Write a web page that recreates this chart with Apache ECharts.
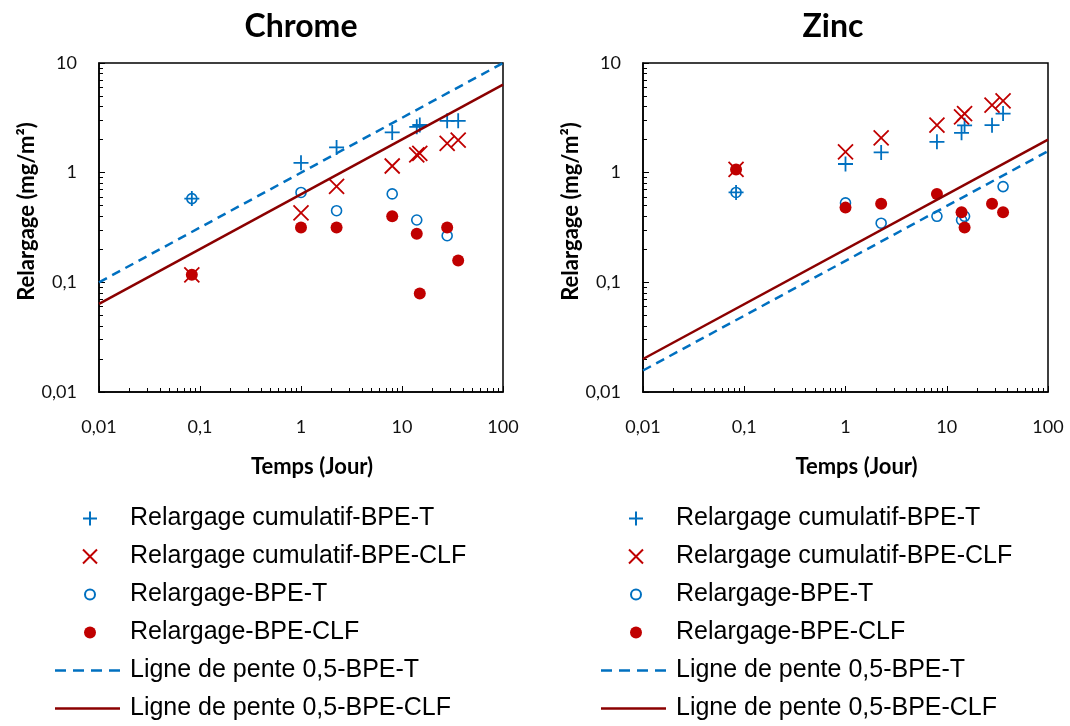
<!DOCTYPE html>
<html>
<head>
<meta charset="utf-8">
<script src="https://cdn.jsdelivr.net/npm/echarts@6/dist/echarts.min.js"></script>
<style>
  html, body { margin: 0; padding: 0; background: #fff; }
  #main { width: 1070px; height: 726px; }
</style>
</head>
<body>
<div id="main"></div>
<script>
// temps (jour)
var temps = [0.083, 1, 2.25, 8, 14, 15, 28, 36];

// Chrome
var crCumT   = [0.58, 1.23, 1.70, 2.33, 2.62, 2.72, 2.97, 2.97];
var crCumCLF = [0.117, 0.43, 0.75, 1.15, 1.45, 1.50, 1.85, 1.98];
var crRelT   = [0.58, 0.66, 0.45, 0.64, 0.37, null, 0.266, null];
var crRelCLF = [0.117, 0.316, 0.316, 0.40, 0.277, 0.079, 0.317, 0.158];
var crPenteT   = [[0.01, 0.1], [100, 10]];
var crPenteCLF = [[0.01, 0.0635], [100, 6.35]];

// Zinc
var znCumT   = [0.66, 1.20, 1.53, 1.91, 2.31, 2.70, 2.71, 3.46];
var znCumCLF = [1.07, 1.55, 2.08, 2.71, 3.23, 3.46, 4.12, 4.51];
var znRelT   = [0.66, 0.53, 0.346, 0.40, 0.37, 0.40, null, 0.746];
var znRelCLF = [1.07, 0.48, 0.52, 0.64, 0.436, 0.316, 0.52, 0.436];
var znPenteT   = [[0.01, 0.0157], [100, 1.57]];
var znPenteCLF = [[0.01, 0.02], [100, 2.0]];

var noms = ['Relargage cumulatif-BPE-T', 'Relargage cumulatif-BPE-CLF', 'Relargage-BPE-T',
            'Relargage-BPE-CLF', 'Ligne de pente 0,5-BPE-T', 'Ligne de pente 0,5-BPE-CLF'];

var xMajor = [0.01, 0.1, 1, 10, 100];
var yMajor = [0.01, 0.1, 1, 10];

var BLEU = '#0070C0', ROUGE = '#C00000', BORDEAUX = '#8B0000';
var police = 'Lato, "Open Sans", sans-serif';

function mineurs(a, b) {
    var out = [];
    for (var p = a; p < b; p++) {
        for (var k = 2; k <= 9; k++) out.push(+(k * Math.pow(10, p)).toPrecision(3));
    }
    return out;
}

function fmt(v) {
    return String(+(+v).toPrecision(3)).replace('.', ',');
}

function paires(xs, ys) {
    var out = [];
    for (var i = 0; i < xs.length; i++) {
        if (ys[i] != null) out.push([xs[i], ys[i]]);
    }
    return out;
}

var grids = [
    {left: 99, top: 63, width: 404, height: 329},
    {left: 643, top: 63, width: 405, height: 329}
];

var xAxes = [], yAxes = [];
grids.forEach(function(g, i){
    xAxes.push({
        type: 'log', gridIndex: i, min: 0.01, max: 100, logBase: 10,
        name: 'Temps (Jour)', nameLocation: 'middle', nameGap: 64,
        nameTextStyle: {fontFamily: police, fontWeight: 'bold', fontSize: 22, color: '#000', padding: [0, 0, 0, 22]},
        axisLine: {lineStyle: {color: '#000', width: 1.5}},
        axisTick: {inside: true, length: 6, customValues: xMajor, lineStyle: {color: '#000', width: 1}},
        axisLabel: {customValues: xMajor, margin: 26, fontFamily: police, fontSize: 18, color: '#111', formatter: fmt},
        splitLine: {show: false}
    });
    // ticks mineurs
    xAxes.push({
        type: 'log', gridIndex: i, min: 0.01, max: 100, logBase: 10, position: 'bottom',
        axisLine: {show: false},
        axisTick: {inside: true, length: 4, customValues: mineurs(-2, 2), lineStyle: {color: '#000', width: 1}},
        axisLabel: {show: false},
        splitLine: {show: false}
    });
    yAxes.push({
        type: 'log', gridIndex: i, min: 0.01, max: 10, logBase: 10,
        name: 'Relargage (mg/m²)', nameLocation: 'middle', nameGap: 58,
        nameTextStyle: {fontFamily: police, fontWeight: 'bold', fontSize: 22, color: '#000', padding: [0, 0, 0, 32]},
        axisLine: {lineStyle: {color: '#000', width: 1.5}},
        axisTick: {inside: true, length: 6, customValues: yMajor, lineStyle: {color: '#000', width: 1}},
        axisLabel: {customValues: yMajor, margin: 22, fontFamily: police, fontSize: 18, color: '#111', formatter: fmt},
        splitLine: {show: false}
    });
    yAxes.push({
        type: 'log', gridIndex: i, min: 0.01, max: 10, logBase: 10, position: 'left',
        axisLine: {show: false},
        axisTick: {inside: true, length: 4, customValues: mineurs(-2, 1), lineStyle: {color: '#000', width: 1}},
        axisLabel: {show: false},
        splitLine: {show: false}
    });
});

var PLUS = 'path://M0,7L14,7M7,0L7,14';
var CROIX = 'path://M0,0L14,14M14,0L0,14';

function seriesPour(i, cumT, cumCLF, relT, relCLF, penteT, penteCLF) {
    var xi = i * 2, yi = i * 2;
    return [
        {name: noms[0], type: 'scatter', xAxisIndex: xi, yAxisIndex: yi, data: paires(temps, cumT),
         symbol: PLUS, symbolSize: 15,
         itemStyle: {color: 'rgba(0,0,0,0)', borderColor: BLEU, borderWidth: 1.8, opacity: 1}},
        {name: noms[1], type: 'scatter', xAxisIndex: xi, yAxisIndex: yi, data: paires(temps, cumCLF),
         symbol: CROIX, symbolSize: 15,
         itemStyle: {color: 'rgba(0,0,0,0)', borderColor: ROUGE, borderWidth: 1.8, opacity: 1}},
        {name: noms[2], type: 'scatter', xAxisIndex: xi, yAxisIndex: yi, data: paires(temps, relT),
         symbol: 'circle', symbolSize: 10,
         itemStyle: {color: 'rgba(0,0,0,0)', borderColor: BLEU, borderWidth: 1.6, opacity: 1}},
        {name: noms[3], type: 'scatter', xAxisIndex: xi, yAxisIndex: yi, data: paires(temps, relCLF),
         symbol: 'circle', symbolSize: 12,
         itemStyle: {color: ROUGE, opacity: 1}},
        {name: noms[4], type: 'line', xAxisIndex: xi, yAxisIndex: yi, data: penteT,
         symbol: 'none', silent: true,
         lineStyle: {color: BLEU, width: 2.5, type: [9, 6]}, itemStyle: {color: BLEU}},
        {name: noms[5], type: 'line', xAxisIndex: xi, yAxisIndex: yi, data: penteCLF,
         symbol: 'none', silent: true,
         lineStyle: {color: BORDEAUX, width: 2.5}, itemStyle: {color: BORDEAUX}}
    ];
}

var series = seriesPour(0, crCumT, crCumCLF, crRelT, crRelCLF, crPenteT, crPenteCLF)
    .concat(seriesPour(1, znCumT, znCumCLF, znRelT, znRelCLF, znPenteT, znPenteCLF));

// icones de légende (boîte 70x14 via les points M)
var ICONE_CERCLE = 'path://M0,0M70,14M30,7a5,5 0 1,0 10,0a5,5 0 1,0 -10,0z';
var ICONE_POINT = 'path://M0,0M70,14M29,7a6,6 0 1,0 12,0a6,6 0 1,0 -12,0z';
var ICONE_PLUS = 'path://M0,0M70,14M28,7L42,7M35,0L35,14';
var ICONE_CROIX = 'path://M0,0M70,14M28,0L42,14M42,0L28,14';
var ICONE_TIRETS = 'path://M0,0M70,14M0,5.75h11v2.5h-11zM18,5.75h11v2.5h-11zM36,5.75h11v2.5h-11zM54,5.75h11v2.5h-11z';
var ICONE_LIGNE = 'path://M0,0M70,14M0,5.75h65v2.5h-65z';

function legende(left) {
    return {
        orient: 'vertical', left: left, top: 506, padding: 0,
        itemWidth: 70, itemHeight: 14, itemGap: 13,
        data: [
            {name: noms[0], icon: ICONE_PLUS},
            {name: noms[1], icon: ICONE_CROIX},
            {name: noms[2], icon: ICONE_CERCLE},
            {name: noms[3], icon: ICONE_POINT},
            {name: noms[4], icon: ICONE_TIRETS, itemStyle: {color: BLEU, borderWidth: 0}},
            {name: noms[5], icon: ICONE_LIGNE, itemStyle: {color: BORDEAUX, borderWidth: 0}}
        ],
        textStyle: {fontFamily: '"Liberation Sans", Arial, sans-serif', fontSize: 25, color: '#000', lineHeight: 25},
        selectedMode: false
    };
}

var myChart = echarts.init(document.getElementById('main'), null, {renderer: 'canvas'});
var option = {
    backgroundColor: '#fff',
    animation: false,
    grid: grids.map(function(g){
        return {left: g.left, top: g.top, width: g.width, height: g.height,
                show: true, borderColor: '#000', borderWidth: 1.5, backgroundColor: 'transparent'};
    }),
    xAxis: xAxes,
    yAxis: yAxes,
    legend: [legende(54), legende(600)],
    graphic: [
        {type: 'text', x: 301, y: 27, style: {text: 'Chrome', x: 0, y: 0, align: 'center', verticalAlign: 'middle',
            font: 'bold 32px Lato, sans-serif', fill: '#000'}},
        {type: 'text', x: 833, y: 27, style: {text: 'Zinc', x: 0, y: 0, align: 'center', verticalAlign: 'middle',
            font: 'bold 32px Lato, sans-serif', fill: '#000'}}
    ],
    series: series
};
myChart.setOption(option);
</script>
</body>
</html>
